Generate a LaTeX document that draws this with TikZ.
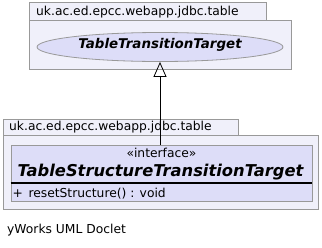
\documentclass[tikz,border=0pt]{standalone}
\usepackage{fontspec}
\setmainfont{DejaVu Sans}
\usetikzlibrary{arrows.meta,shapes.geometric}
\definecolor{pkgfill}{HTML}{F0F0FA}
\definecolor{clsfill}{HTML}{DDDDF8}
\definecolor{edge}{HTML}{999999}
\tikzset{
  pkg/.style={draw=edge, fill=pkgfill, line width=0.8pt},
  plain/.style={inner sep=0pt, font=\fontsize{12.3}{14}\selectfont},
  pkglabel/.style={plain, anchor=base west},
  iface/.style={draw=edge, fill=clsfill, line width=0.8pt, ellipse, minimum width=246pt, minimum height=29pt, inner sep=0pt},
  clsbox/.style={draw=edge, fill=clsfill, line width=0.8pt, rectangle, minimum width=301pt, minimum height=56pt, inner sep=0pt},
  realize/.style={-{Triangle[open, length=15pt, width=13pt]}, line width=0.8pt, black},
}
\begin{document}
\begin{tikzpicture}[x=1pt,y=-1pt]
  \useasboundingbox (0,0) rectangle (322,247);
  \fill[white] (0,0) rectangle (322,247);

  % upper package: tab and body
  \draw[pkg] (29,2) rectangle (266,20);
  \draw[pkg] (29,20) rectangle (291,69);
  \node[pkglabel] (pkgA) at (36,15) {uk.ac.ed.epcc.webapp.jdbc.table};
  \node[iface] (target) at (160,47) {};
  \node[inner sep=0pt, anchor=base, font=\fontsize{13.4}{15}\selectfont\bfseries\itshape] (tname) at (160,48.5) {TableTransitionTarget};

  % lower package: tab and body
  \draw[pkg] (3,119) rectangle (238,135);
  \draw[pkg] (3,135) rectangle (318,209);
  \node[pkglabel] (pkgB) at (9,130) {uk.ac.ed.epcc.webapp.jdbc.table};

  % interface class box
  \node[clsbox] (struct) at (161.5,173) {};
  \node[plain, anchor=base] (stereo) at (161.5,157.5) {«interface»};
  \node[inner sep=0pt, anchor=base, font=\fontsize{16.3}{18}\selectfont\bfseries\itshape] (sname) at (160.5,176.5) {TableStructureTransitionTarget};
  \draw[black, line width=1.6pt] (struct.west |- 0,183) -- (struct.east |- 0,183);
  \node[plain, anchor=base west] (op) at (12.5,197) {+\hspace{5.5pt}resetStructure() : void};

  % realization arrow
  \draw[realize] (struct.north -| target.south) -- (target.south);

  \node[plain, anchor=base west] (credit) at (7,233) {yWorks UML Doclet};
\end{tikzpicture}
\end{document}
